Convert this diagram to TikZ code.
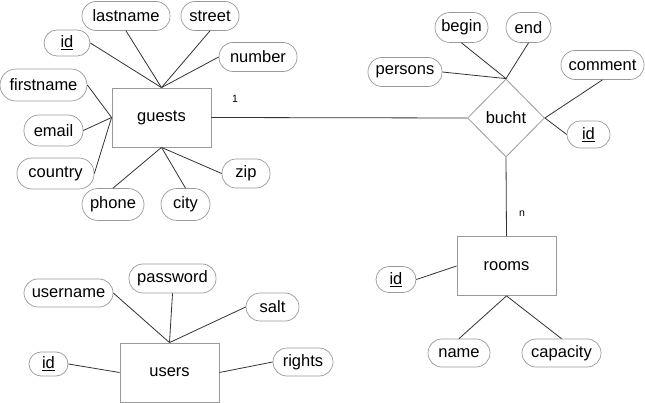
\documentclass[tikz,border=0pt]{standalone}
\usepackage{fontspec}
\setmainfont{Liberation Sans}
\usetikzlibrary{shapes.geometric}
\definecolor{boxgray}{gray}{0.6}
\definecolor{linegray}{gray}{0.2}
\tikzset{
  entity/.style={draw=boxgray, line width=0.8pt, minimum width=99pt, minimum height=59pt, inner sep=0pt, font=\fontsize{16.5}{20}\selectfont},
  rel/.style={draw=boxgray, line width=0.8pt, shape=diamond, minimum width=77pt, minimum height=78pt, inner sep=0pt, font=\fontsize{16.5}{20}\selectfont},
  attr/.style={draw=boxgray, line width=0.7pt, rounded corners=14pt, minimum height=29pt, inner sep=0pt, font=\fontsize{16.5}{20}\selectfont},
  conn/.style={draw=linegray, line width=0.8pt},
  card/.style={font=\fontsize{10.5}{12}\selectfont, inner sep=0pt}
}
\begin{document}
\begin{tikzpicture}[x=1pt, y=-1pt]
\useasboundingbox (0,0) rectangle (645,403);
% entities
\node[entity] (guests) at (161.5,117.5) {guests};
\node[rel] (bucht) at (506,118) {bucht};
\node[entity] (rooms) at (506.5,266) {rooms};
\node[entity] (users) at (169.5,372.5) {users};
% guests attributes
\node[attr, minimum width=88pt] (glast) at (126,16) {lastname};
\node[attr, minimum width=58pt] (gstreet) at (210,16) {street};
\node[attr, minimum width=46pt, minimum height=26pt, rounded corners=13pt] (gid) at (67,43) {\underline{id}};
\node[attr, minimum width=78pt] (gnum) at (258,57) {number};
\node[attr, minimum width=87pt, minimum height=32pt, rounded corners=16pt] (gfirst) at (43.5,85) {firstname};
\node[attr, minimum width=59pt, minimum height=31pt, rounded corners=15pt] (gemail) at (53.5,130.5) {email};
\node[attr, minimum width=77pt, minimum height=31pt, rounded corners=15pt] (gcountry) at (55.5,173.5) {country};
\node[attr, minimum width=62pt, minimum height=32pt, rounded corners=16pt] (gphone) at (113,204.5) {phone};
\node[attr, minimum width=49pt, minimum height=32pt, rounded corners=16pt] (gcity) at (185.5,204.5) {city};
\node[attr, minimum width=48pt] (gzip) at (246,173.5) {zip};
% bucht attributes
\node[attr, minimum width=53pt, minimum height=30pt, rounded corners=15pt] (bbegin) at (461.5,27.5) {begin};
\node[attr, minimum width=45pt, minimum height=30pt, rounded corners=15pt] (bend) at (528.5,27.5) {end};
\node[attr, minimum width=74pt] (bpers) at (405,72) {persons};
\node[attr, minimum width=83pt] (bcomm) at (602.5,65) {comment};
\node[attr, minimum width=43pt, minimum height=27pt, rounded corners=13.5pt] (bid) at (588.5,134.5) {\underline{id}};
% rooms attributes
\node[attr, minimum width=40pt, minimum height=26pt, rounded corners=13pt] (rid) at (396,279.5) {\underline{id}};
\node[attr, minimum width=62pt, minimum height=28pt] (rname) at (459,353) {name};
\node[attr, minimum width=79pt, minimum height=28pt] (rcap) at (561.5,353) {capacity};
% users attributes
\node[attr, minimum width=89pt, minimum height=28pt] (uname) at (68.5,293) {username};
\node[attr, minimum width=87pt, minimum height=29pt] (upass) at (172.5,278.5) {password};
\node[attr, minimum width=53pt, minimum height=28pt] (usalt) at (272.5,307) {salt};
\node[attr, minimum width=39pt, minimum height=24pt, rounded corners=12pt] (uid) at (48.5,364) {\underline{id}};
\node[attr, minimum width=60pt, minimum height=28pt] (urights) at (303,362) {rights};
% relationship connectors
\draw[conn] (guests.east) -- (bucht.west);
\draw[conn] (bucht.south) -- (rooms.north);
\node[card] (c1) at (235,99) {1};
\node[card] (cn) at (522,214) {n};
% guests connectors
\draw[conn] (gid.east) -- (guests.north);
\draw[conn] (glast.south) -- (guests.north);
\draw[conn] (gstreet.south) -- (guests.north);
\draw[conn] (gnum.west) -- (guests.north);
\draw[conn] (gfirst.east) -- (guests.west);
\draw[conn] (gemail.east) -- (guests.west);
\draw[conn] (gcountry.east) -- (guests.west);
\draw[conn] (gphone.north) -- (guests.south);
\draw[conn] (gcity.north) -- (guests.south);
\draw[conn] (gzip.west) -- (guests.south);
% bucht connectors
\draw[conn] (bbegin.south) -- (bucht.north);
\draw[conn] (bend.south) -- (bucht.north);
\draw[conn] (bpers.east) -- (bucht.north);
\draw[conn] (bcomm.south) -- (bucht.east);
\draw[conn] (bid.west) -- (bucht.east);
% rooms connectors
\draw[conn] (rid.east) -- (rooms.west);
\draw[conn] (rname.north) -- (rooms.south);
\draw[conn] (rcap.north) -- (rooms.south);
% users connectors
\draw[conn] (uname.east) -- (users.north);
\draw[conn] (upass.south) -- (users.north);
\draw[conn] (usalt.west) -- (users.north);
\draw[conn] (uid.east) -- (users.west);
\draw[conn] (urights.west) -- (users.east);
\end{tikzpicture}
\end{document}
